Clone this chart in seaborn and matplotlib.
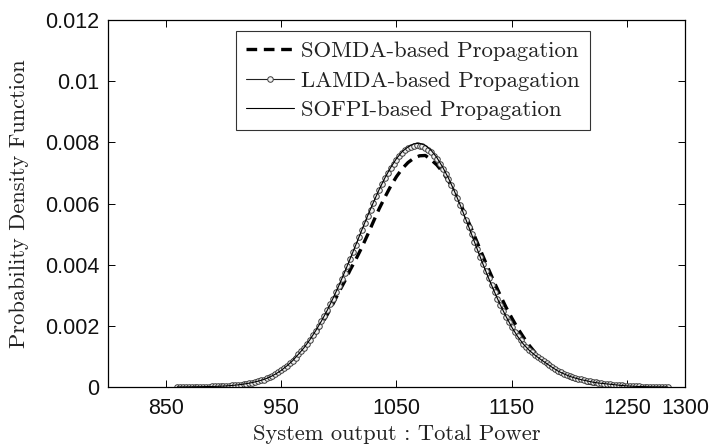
import numpy as np
import matplotlib
matplotlib.use("Agg")
import matplotlib.pyplot as plt
import seaborn as sns

# ---------------- data ----------------
series_names = ["SOMDA-based Propagation", "LAMDA-based Propagation", "SOFPI-based Propagation"]

# LAMDA (line with circle markers), sampled every 2.5 units from 860
lamda_x_start, lamda_x_step = 860.0, 2.5
lamda_y = [
    0.000002, 0.000003, 0.000003, 0.000004, 0.000005, 0.000006, 0.000007, 0.000008,
    0.00001, 0.000012, 0.000014, 0.000016, 0.000018, 0.00002, 0.000023, 0.000026,
    0.00003, 0.000035, 0.000042, 0.00005, 0.00006, 0.00007, 0.00008, 0.000095,
    0.00011, 0.000125, 0.000145, 0.000165, 0.00019, 0.000215, 0.000245, 0.00028,
    0.00032, 0.00037, 0.00042, 0.00048, 0.00054, 0.00061, 0.00069, 0.00077,
    0.00086, 0.00096, 0.00107, 0.00118, 0.00129, 0.00142, 0.00155, 0.00169,
    0.00184, 0.00199, 0.00216, 0.00233, 0.00251, 0.0027, 0.00289, 0.0031,
    0.0033, 0.00352, 0.00374, 0.00396, 0.00419, 0.00442, 0.00465, 0.00489,
    0.00512, 0.00535, 0.00558, 0.0058, 0.00602, 0.00623, 0.00643, 0.00663,
    0.00682, 0.00699, 0.00715, 0.0073, 0.00743, 0.00755, 0.00765, 0.00774,
    0.00781, 0.00786, 0.00789, 0.0079, 0.00789, 0.00787, 0.00782, 0.00775,
    0.00767, 0.00756, 0.00744, 0.0073, 0.00714, 0.00697, 0.00679, 0.00659,
    0.00638, 0.00617, 0.00594, 0.00571, 0.00547, 0.00523, 0.00499, 0.00474,
    0.0045, 0.00426, 0.00402, 0.00378, 0.00355, 0.00332, 0.0031, 0.00289,
    0.00268, 0.00249, 0.0023, 0.00212, 0.00195, 0.0018, 0.00166, 0.00153,
    0.00141, 0.00131, 0.00122, 0.00114, 0.00106, 0.00098, 0.00091, 0.00084,
    0.00077, 0.00071, 0.00065, 0.00058, 0.00052, 0.00048, 0.00044, 0.0004,
    0.00036, 0.00033, 0.0003, 0.00027, 0.00025, 0.00023, 0.00021, 0.00019,
    0.00017, 0.00015, 0.00013, 0.00012, 0.00011, 0.0001, 0.00009, 0.00008,
    0.00007, 0.00006, 0.00005, 0.00004, 0.000035, 0.00003, 0.000025, 0.00002,
    0.000017, 0.000014, 0.000011, 0.000009, 0.000007, 0.000006, 0.000005, 0.000004,
    0.000003, 0.000002, 0.000002,
]

# SOMDA (thick dashed) and SOFPI (thin solid), sampled every 5 units from 860
line_x_start, line_x_step = 860.0, 5.0
somda_y = [
    0.000002, 0.000003, 0.000005, 0.000007, 0.00001, 0.000014, 0.000018, 0.000023,
    0.00003, 0.000042, 0.00006, 0.00008, 0.00011, 0.000145, 0.00019, 0.000245,
    0.00032, 0.00042, 0.00054, 0.00069, 0.00086, 0.00106, 0.00127, 0.0015,
    0.00176, 0.00204, 0.00237, 0.00272, 0.0031, 0.00345, 0.00384, 0.00419,
    0.00457, 0.00498, 0.00541, 0.00583, 0.00621, 0.00657, 0.00688, 0.00714,
    0.00734, 0.00748, 0.00756, 0.00757, 0.00743, 0.00726, 0.00703, 0.00674,
    0.0064, 0.00602, 0.0056, 0.00517, 0.00472, 0.00427, 0.00383, 0.0034,
    0.00299, 0.0026, 0.00225, 0.00192, 0.00163, 0.00136, 0.00113, 0.00093,
    0.00076, 0.00061, 0.00048, 0.00038, 0.0003, 0.000235, 0.00018, 0.000138,
    0.000105, 0.00008, 0.00006, 0.000046, 0.000035, 0.000026, 0.000019, 0.000014,
    0.00001, 0.000008, 0.000005, 0.000004, 0.000003, 0.000002,
]
sofpi_y = [
    0.000002, 0.000003, 0.000005, 0.000007, 0.00001, 0.000014, 0.000018, 0.000023,
    0.00003, 0.000042, 0.00006, 0.00008, 0.00011, 0.000145, 0.00019, 0.000245,
    0.00032, 0.00042, 0.00054, 0.00069, 0.00086, 0.00107, 0.00129, 0.00155,
    0.00184, 0.00216, 0.00251, 0.0029, 0.00331, 0.00375, 0.00421, 0.00467,
    0.00514, 0.0056, 0.00604, 0.00646, 0.00684, 0.00718, 0.00747, 0.0077,
    0.00785, 0.00795, 0.00797, 0.0079, 0.00774, 0.0075, 0.00719, 0.00683,
    0.00642, 0.00597, 0.00549, 0.005, 0.0045, 0.00401, 0.00354, 0.0031,
    0.00268, 0.0023, 0.00195, 0.00165, 0.0014, 0.0012, 0.00104, 0.0009,
    0.00077, 0.00064, 0.00052, 0.00043, 0.00035, 0.00029, 0.00024, 0.0002,
    0.00016, 0.00013, 0.00011, 0.00009, 0.00007, 0.00005, 0.000035, 0.000025,
    0.000017, 0.000011, 0.000007, 0.000005, 0.000003, 0.000002,
]

x_ticks = [850, 950, 1050, 1150, 1250, 1300]
y_ticks = [0, 0.002, 0.004, 0.006, 0.008, 0.01, 0.012]
y_tick_labels = ["0", "0.002", "0.004", "0.006", "0.008", "0.01", "0.012"]
x_label = "System output : Total Power"
y_label = "Probability Density Function"

lamda_x = lamda_x_start + lamda_x_step * np.arange(len(lamda_y))
somda_x = line_x_start + line_x_step * np.arange(len(somda_y))
sofpi_x = line_x_start + line_x_step * np.arange(len(sofpi_y))

# ---------------- style ----------------
sns.set_theme(style="ticks")
serif = ["cmr10", "DejaVu Serif"]
tick_font = ["Liberation Sans", "DejaVu Sans"]
plt.rcParams["axes.formatter.use_mathtext"] = True

fig = plt.figure(figsize=(7.09, 4.47), dpi=100)
ax = fig.add_axes([108 / 709, 1 - 387 / 447, 577 / 709, 367 / 447])

sns.lineplot(x=somda_x, y=somda_y, ax=ax, color="black", linewidth=2.4,
             label=series_names[0], estimator=None, sort=False)
ax.lines[-1].set_dashes((3.2, 2.0))
sns.lineplot(x=lamda_x, y=lamda_y, ax=ax, color="#222222", linewidth=0.8,
             marker="o", markersize=4.0, markerfacecolor="#f2f2f2",
             markeredgecolor="#3a3a3a", markeredgewidth=0.7,
             label=series_names[1], estimator=None, sort=False)
sns.lineplot(x=sofpi_x, y=sofpi_y, ax=ax, color="black", linewidth=0.8,
             label=series_names[2], estimator=None, sort=False)

ax.set_xlim(800, 1300)
ax.set_ylim(0, 0.012)
ax.set_xticks(x_ticks)
ax.set_xticklabels([str(t) for t in x_ticks])
ax.set_yticks(y_ticks)
ax.set_yticklabels(y_tick_labels)
for lab in ax.get_xticklabels() + ax.get_yticklabels():
    lab.set_fontfamily(tick_font)
    lab.set_fontsize(15.5)
    lab.set_color("#111111")

ax.tick_params(direction="in", length=5, width=0.7, top=True, right=True,
               colors="black", labelcolor="#111111")
ax.tick_params(axis="x", pad=8)
ax.tick_params(axis="y", pad=6)
for s in ax.spines.values():
    s.set_visible(True)
    s.set_linewidth(0.9)
    s.set_color("black")

ax.set_xlabel(x_label, fontfamily=serif, fontsize=16.2, color="#222222", labelpad=4)
ax.set_ylabel(y_label, fontfamily=serif, fontsize=16.2, color="#222222", labelpad=12)

leg = ax.legend(loc="upper left", bbox_to_anchor=((236 - 108) / 577, (387 - 31) / 367),
                borderaxespad=0, frameon=True, fancybox=False, edgecolor="black",
                prop={"family": serif, "size": 16.4}, handlelength=2.1,
                handletextpad=0.3, labelspacing=0.42, borderpad=0.45)
leg.get_frame().set_linewidth(0.8)
for t in leg.get_texts():
    t.set_color("#222222")

fig.savefig("out.png", dpi=100)
